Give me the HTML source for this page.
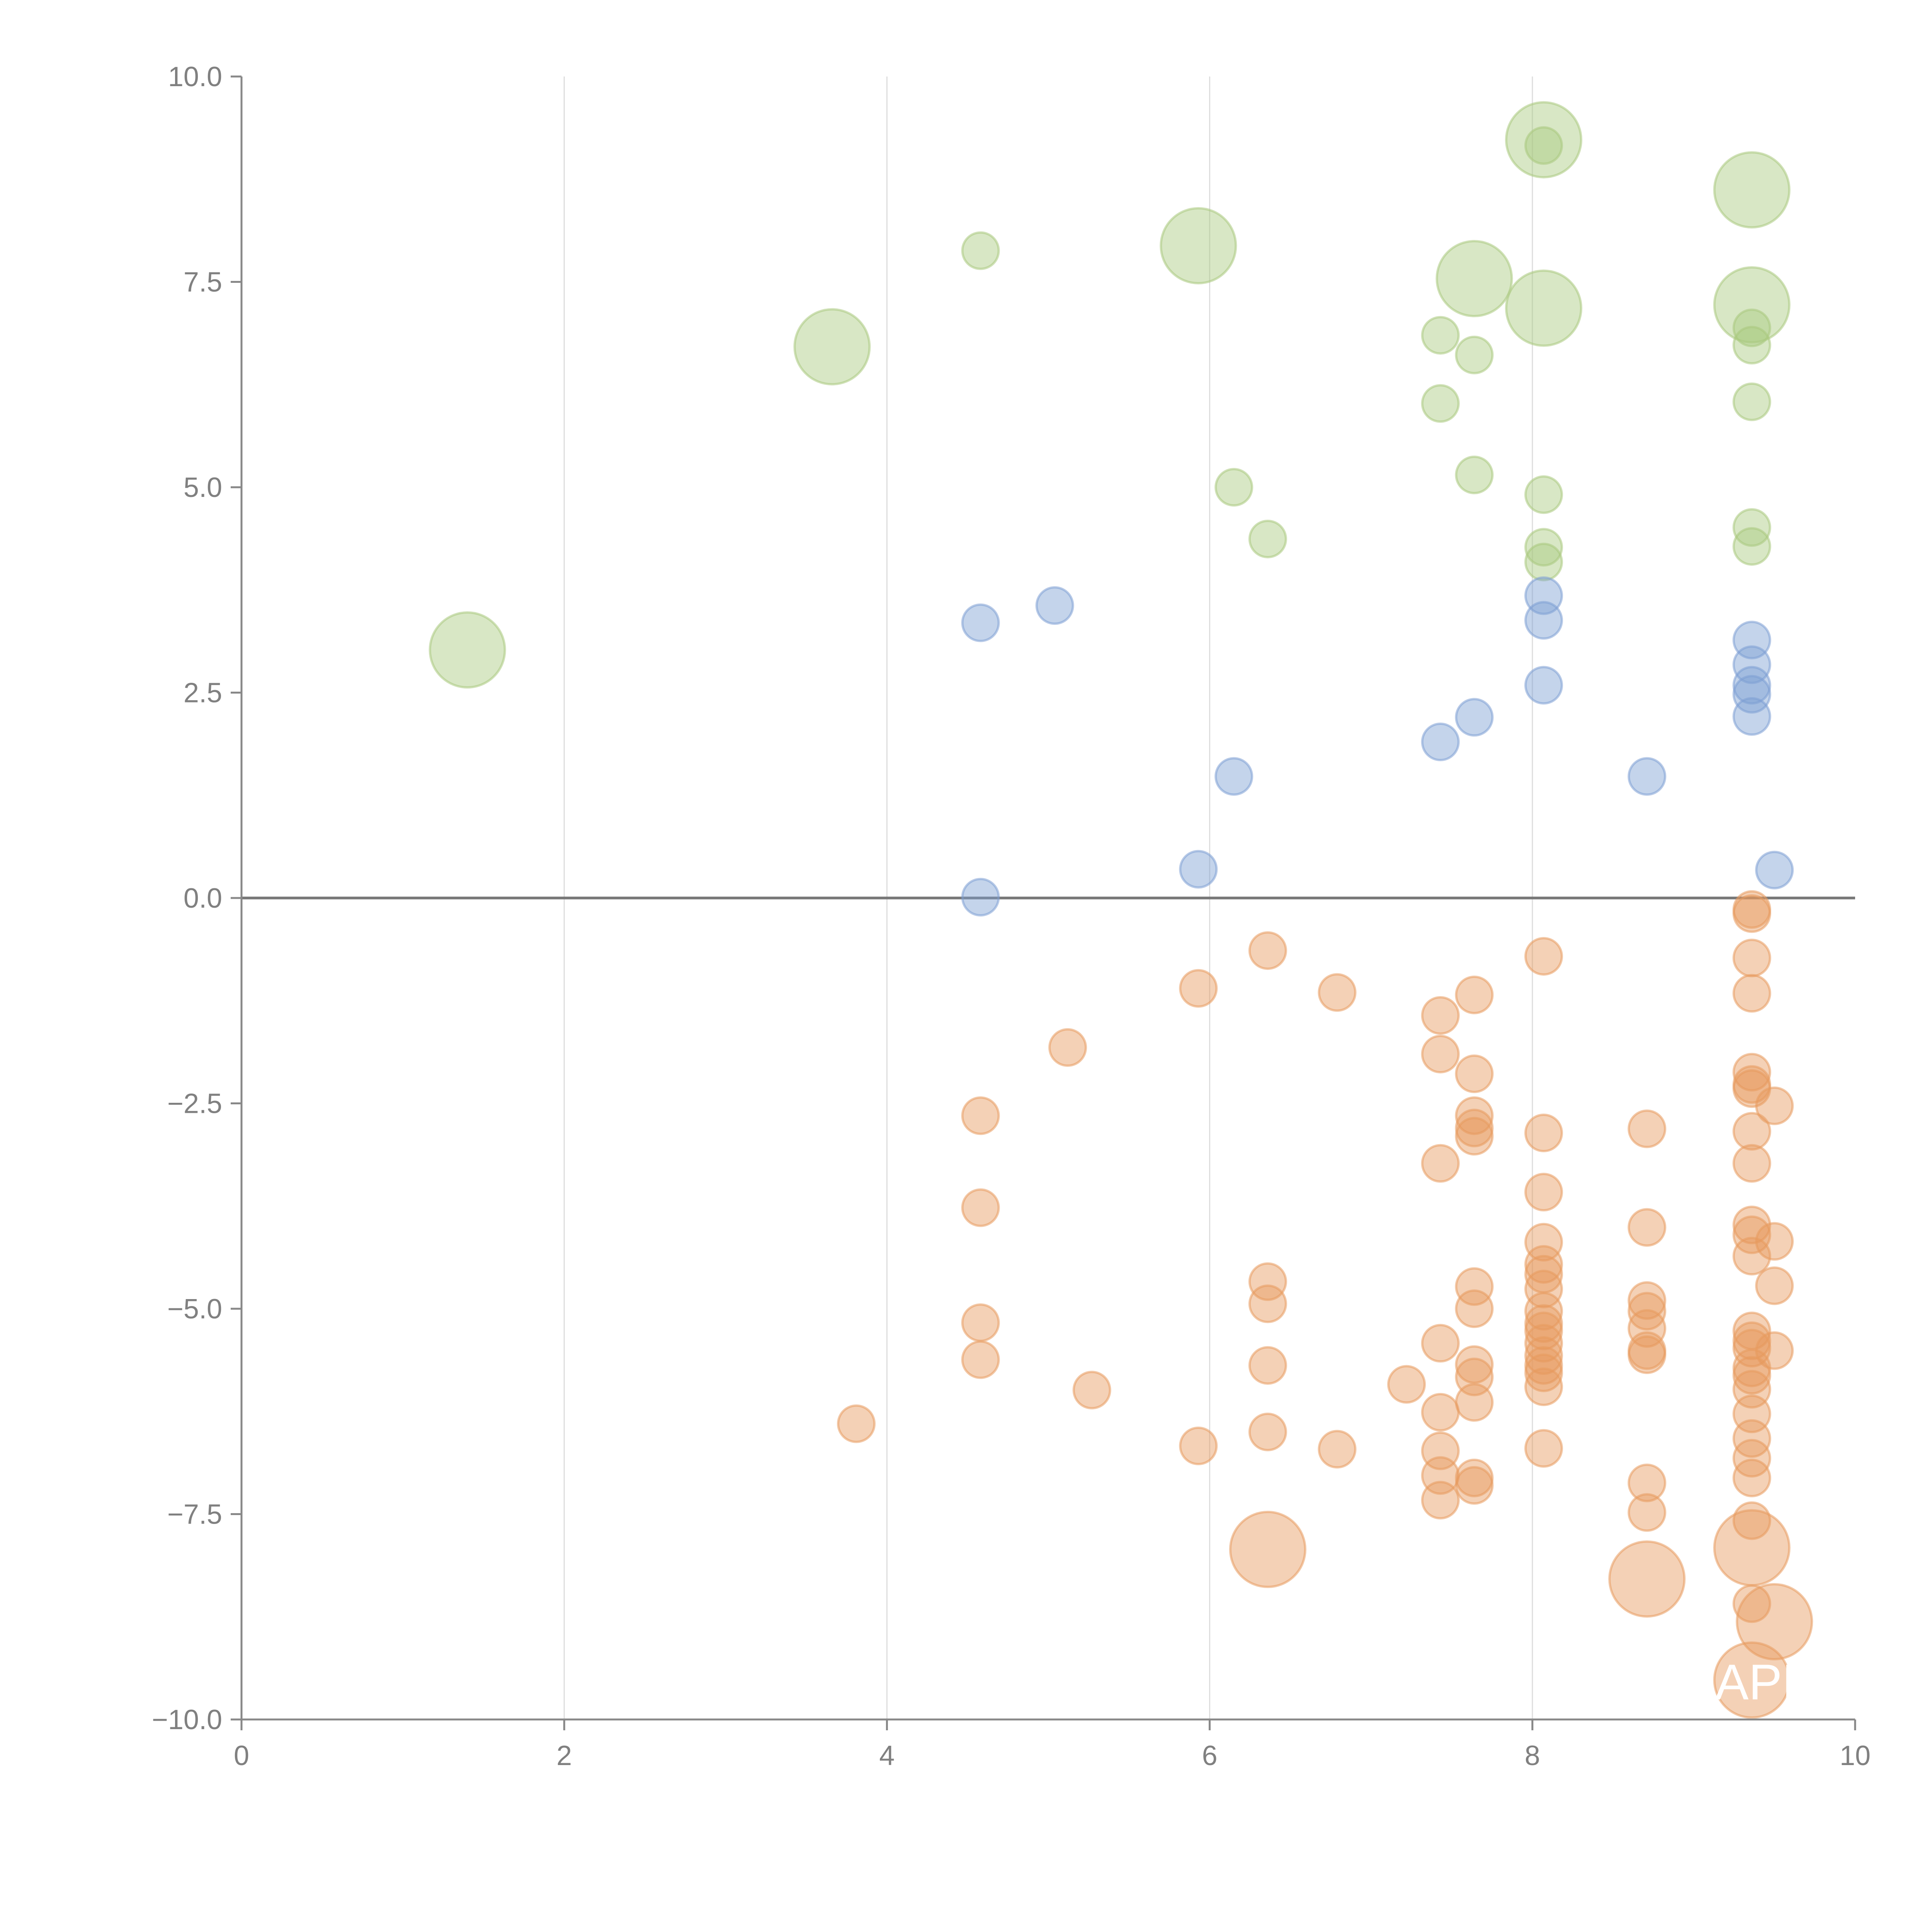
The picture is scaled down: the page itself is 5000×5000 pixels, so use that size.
<!DOCTYPE html>
<html><head><meta charset="utf-8"><style>html,body{margin:0;padding:0;background:#fff}svg{display:block}</style></head>
<body>
<svg id="chart" width="5000" height="5000" viewBox="0 0 5000 5000" xmlns="http://www.w3.org/2000/svg" font-family="Liberation Sans, sans-serif"></svg>
<script>
const xTicks=[0,2,4,6,8,10];
const yTicks=[10,7.5,5,2.5,0,-2.5,-5,-7.5,-10];
const yTickLabels=["10.0","7.5","5.0","2.5","0.0","\u22122.5","\u22125.0","\u22127.5","\u221210.0"];
const greenX=[8.07,8.07,9.36,4.58,5.93,7.64,8.07,9.36,3.66,7.43,7.64,9.36,9.36,7.43,9.36,6.15,7.64,8.07,6.36,8.07,8.07,9.36,9.36,1.40];
const greenY=[9.23,9.16,8.62,7.88,7.94,7.54,7.18,7.22,6.71,6.85,6.61,6.94,6.73,6.02,6.04,5.0,5.15,4.91,4.37,4.27,4.09,4.51,4.28,3.02];
const greenS=[2,1,2,1,2,2,2,2,2,1,1,1,1,1,1,1,1,1,1,1,1,1,1,2];
const blueX=[4.58,5.04,8.07,8.07,8.07,9.36,9.36,9.36,9.36,9.36,7.64,7.43,6.15,8.71,5.93,9.50,4.58];
const blueY=[3.35,3.56,3.68,3.38,2.59,3.14,2.84,2.59,2.48,2.21,2.2,1.9,1.48,1.48,0.35,0.34,0.01];
const orangeX=[9.36,9.36,6.36,8.07,9.36,5.93,6.79,7.64,9.36,7.43,5.12,7.43,7.64,9.36,9.36,9.36,9.50,4.58,7.64,7.64,7.64,8.71,8.07,9.36,7.43,9.36,8.07,4.58,8.71,9.36,9.36,9.50,8.07,9.36,8.07,8.07,6.36,7.64,8.07,9.50,6.36,8.71,7.64,8.07,8.71,8.07,4.58,8.07,8.71,9.36,9.36,8.07,7.43,9.36,8.71,9.50,8.71,8.07,4.58,6.36,7.64,8.07,9.36,8.07,7.64,9.36,7.22,8.07,9.36,5.27,7.64,7.43,9.36,3.81,6.36,9.36,5.93,6.79,8.07,7.43,9.36,7.43,7.64,9.36,8.71,7.64,7.43,8.71,9.36,6.36,9.36,8.71,9.36,9.50,9.36];
const orangeY=[-0.14,-0.19,-0.64,-0.71,-0.73,-1.1,-1.15,-1.18,-1.16,-1.43,-1.82,-1.9,-2.14,-2.12,-2.32,-2.27,-2.53,-2.65,-2.65,-2.8,-2.9,-2.81,-2.86,-2.84,-3.23,-3.23,-3.58,-3.77,-4.01,-3.98,-4.1,-4.18,-4.19,-4.36,-4.46,-4.58,-4.67,-4.73,-4.76,-4.72,-4.94,-4.9,-5.0,-5.03,-5.03,-5.18,-5.17,-5.27,-5.24,-5.27,-5.39,-5.42,-5.42,-5.48,-5.51,-5.51,-5.56,-5.57,-5.62,-5.69,-5.68,-5.69,-5.72,-5.78,-5.83,-5.81,-5.92,-5.95,-5.98,-5.99,-6.14,-6.26,-6.28,-6.4,-6.5,-6.58,-6.67,-6.71,-6.7,-6.73,-6.82,-7.03,-7.06,-7.06,-7.12,-7.15,-7.33,-7.48,-7.58,-7.93,-7.91,-8.29,-8.59,-8.81,-9.52];
const orangeS=orangeY.map((v,i)=>i>=89?([2,2,2,1,2,2][i-89]):1);

const L=625,R=4801,T=198,B=4450;
const sx=v=>L+(v-0)/(10-0)*(R-L);
const sy=v=>T+(10-v)/20*(B-T);
const NS="http://www.w3.org/2000/svg";
const svg=document.getElementById('chart');
function mk(tag,attrs,parent){const e=document.createElementNS(NS,tag);for(const k in attrs)e.setAttribute(k,attrs[k]);(parent||svg).appendChild(e);return e;}
const grid=mk('g',{});


[2,4,6,8].forEach(t=>{const l=mk('line',{x1:sx(t),x2:sx(t),y1:T,y2:B,stroke:'#dddddd','stroke-width':3},grid);

});
const zl=mk('line',{x1:L,x2:R,y1:sy(0),y2:sy(0),stroke:'#777','stroke-width':7});


function series(xs,ys,ss,col,name){const g=mk('g',{});


xs.forEach((x,i)=>{const r=ss[i]===2?97:47;const c=mk('circle',{cx:sx(x),cy:sy(ys[i]),r:r,fill:col,'fill-opacity':0.45,stroke:col,'stroke-opacity':0.55,'stroke-width':6},g);

});}
series(greenX,greenY,greenS,'#a9c97e','green-series');
series(blueX,blueY,blueX.map(()=>1),'#7d9fd3','blue-series');
series(orangeX,orangeY,orangeS,'#e79a5e','orange-series');
const lbl=mk('text',{x:sx(9.36)-95,y:sy(-9.52)+50,fill:'#fff','font-size':130});lbl.textContent='APP';


const ax=mk('g',{stroke:'#888','stroke-width':5,fill:'none'});


mk('line',{x1:L,x2:L,y1:T,y2:B},ax);
mk('line',{x1:L,x2:R,y1:B,y2:B},ax);
yTicks.forEach((t,i)=>{mk('line',{x1:L-28,x2:L,y1:sy(t),y2:sy(t)},ax);
const tx=mk('text',{x:L-50,y:sy(t)+25,'text-anchor':'end','font-size':72,fill:'#808080'});tx.textContent=yTickLabels[i];

});
xTicks.forEach(t=>{mk('line',{x1:sx(t),x2:sx(t),y1:B,y2:B+28},ax);
const tx=mk('text',{x:sx(t),y:B+118,'text-anchor':'middle','font-size':72,fill:'#808080'});tx.textContent=String(t);

});
</script>
</body></html>
